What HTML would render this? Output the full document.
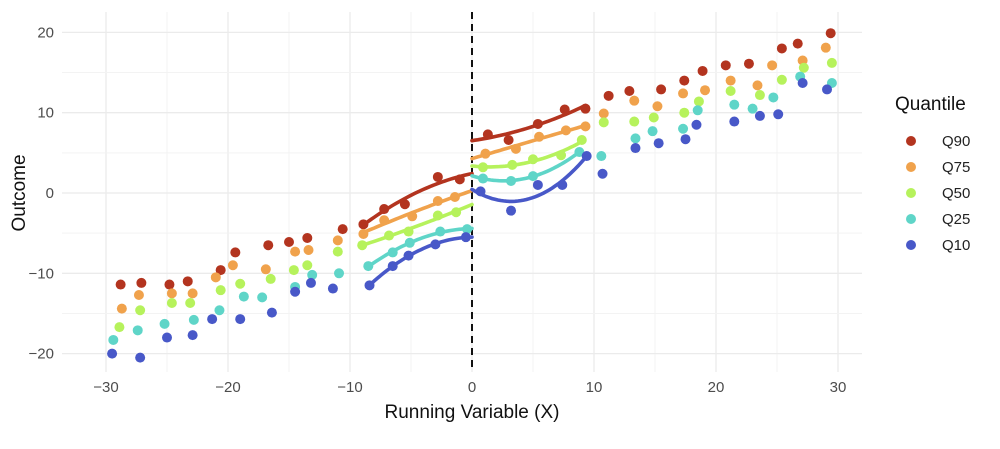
<!DOCTYPE html>
<html><head><meta charset="utf-8"><style>
body{margin:0;background:#fff;}
svg text{font-family:"Liberation Sans",sans-serif;}
</style></head><body>
<svg id="chart" width="1000" height="444" xmlns="http://www.w3.org/2000/svg">
<g id="grid"></g>
<g id="axes"></g>
<g id="lines"></g>
<g id="points"></g>
<g id="legend"></g>
</svg>
<script>
const quantiles=["Q90","Q75","Q50","Q25","Q10"];
const colors=["#b3341f","#f0a24c","#b6f25c","#5fd5c8","#4858c8"];
const xTicks=[-30,-20,-10,0,10,20,30];
const yTicks=[-20,-10,0,10,20];
const q90X=[-28.8,-27.1,-24.8,-23.3,-20.6,-19.4,-16.7,-15.0,-13.5,-10.6,-8.9,-7.2,-5.5,-2.8,-1.0,1.3,3.0,5.4,7.6,9.3,11.2,12.9,15.5,17.4,18.9,20.8,22.7,25.4,26.7,29.4];
const q90Y=[-11.4,-11.2,-11.4,-11.0,-9.6,-7.4,-6.5,-6.1,-5.6,-4.5,-3.9,-2.0,-1.4,2.0,1.7,7.3,6.6,8.6,10.4,10.5,12.1,12.7,12.9,14.0,15.2,15.9,16.1,18.0,18.6,19.9];
const q75X=[-28.7,-27.3,-24.6,-22.9,-21.0,-19.6,-16.9,-14.5,-13.4,-11.0,-8.9,-7.2,-4.9,-2.8,-1.4,1.1,3.6,5.5,7.7,9.3,10.8,13.3,15.2,17.3,19.1,21.2,23.4,24.6,27.1,29.0];
const q75Y=[-14.4,-12.7,-12.5,-12.5,-10.5,-9.0,-9.5,-7.3,-7.1,-5.9,-5.1,-3.4,-2.9,-1.0,-0.5,4.9,5.5,7.0,7.8,8.3,9.9,11.5,10.8,12.4,12.8,14.0,13.4,15.9,16.5,18.1];
const q50X=[-28.9,-27.2,-24.6,-23.1,-20.6,-19.0,-16.5,-14.6,-13.5,-11.0,-9.0,-6.8,-5.2,-2.8,-1.3,0.9,3.3,5.0,7.3,9.0,10.8,13.3,14.9,17.4,18.6,21.2,23.6,25.4,27.2,29.5];
const q50Y=[-16.7,-14.6,-13.7,-13.7,-12.1,-11.3,-10.7,-9.6,-9.0,-7.3,-6.5,-5.3,-4.8,-2.8,-2.4,3.2,3.5,4.2,4.7,6.6,8.8,8.9,9.4,10.0,11.4,12.7,12.2,14.1,15.6,16.2];
const q25X=[-29.4,-27.4,-25.2,-22.8,-20.7,-18.7,-17.2,-14.5,-13.1,-10.9,-8.5,-6.5,-5.1,-2.6,-0.4,0.9,3.2,5.0,8.8,10.6,13.4,14.8,17.3,18.5,21.5,23.0,24.7,26.9,29.5];
const q25Y=[-18.3,-17.1,-16.3,-15.8,-14.6,-12.9,-13.0,-11.7,-10.2,-10.0,-9.1,-7.4,-6.2,-4.8,-4.5,1.8,1.5,2.1,5.1,4.6,6.8,7.7,8.0,10.3,11.0,10.5,11.9,14.5,13.7];
const q10X=[-29.5,-27.2,-25.0,-22.9,-21.3,-19.0,-16.4,-14.5,-13.2,-11.4,-8.4,-6.5,-5.2,-3.0,-0.5,0.7,3.2,5.4,7.4,9.4,10.7,13.4,15.3,17.5,18.4,21.5,23.6,25.1,27.1,29.1];
const q10Y=[-20.0,-20.5,-18.0,-17.7,-15.7,-15.7,-14.9,-12.3,-11.2,-11.9,-11.5,-9.1,-7.8,-6.4,-5.5,0.2,-2.2,1.0,1.0,4.6,2.4,5.6,6.2,6.7,8.5,8.9,9.6,9.8,13.7,12.9];
const seriesX=[q90X,q75X,q50X,q25X,q10X];
const seriesY=[q90Y,q75Y,q50Y,q25Y,q10Y];
const bandwidth=9.6;

const NS="http://www.w3.org/2000/svg";
const sx=v=>472+v*12.2;
const sy=v=>193-v*8.03;
function mk(tag,attrs,parent){const e=document.createElementNS(NS,tag);for(const k in attrs)e.setAttribute(k,attrs[k]);parent.appendChild(e);return e;}
const grid=document.getElementById('grid'),axes=document.getElementById('axes'),lines=document.getElementById('lines'),pts=document.getElementById('points'),leg=document.getElementById('legend');

for(let v=-30;v<=30;v+=5){const l=mk('line',{x1:sx(v),x2:sx(v),y1:12,y2:372,stroke:v%10===0?'#ebebeb':'#f3f3f3','stroke-width':v%10===0?1.3:1},grid);

}
for(let v=-20;v<=20;v+=5){const l=mk('line',{x1:62,x2:862,y1:sy(v),y2:sy(v),stroke:v%10===0?'#ebebeb':'#f3f3f3','stroke-width':v%10===0?1.3:1},grid);

}
xTicks.forEach(v=>{const t=mk('text',{x:sx(v),y:392,'text-anchor':'middle','font-size':15,fill:'#4d4d4d'},axes);t.textContent=(v<0?'\u2212'+(-v):v);

});
yTicks.forEach(v=>{const t=mk('text',{x:54,y:sy(v)+5,'text-anchor':'end','font-size':15,fill:'#4d4d4d'},axes);t.textContent=(v<0?'\u2212'+(-v):v);

});
let xt=mk('text',{x:472,y:418,'text-anchor':'middle','font-size':19,fill:'#111'},axes);xt.textContent='Running Variable (X)';


let yt=mk('text',{x:0,y:0,'text-anchor':'middle','font-size':19,fill:'#111',transform:'translate(25,193) rotate(-90)'},axes);yt.textContent='Outcome';


let cut=mk('line',{x1:sx(0),x2:sx(0),y1:12,y2:372,stroke:'#111','stroke-width':2,'stroke-dasharray':'7,5'},axes);



function quadFit(xs,ys){let S=[0,0,0,0,0],T=[0,0,0];for(let i=0;i<xs.length;i++){let p=1;for(let k=0;k<5;k++){S[k]+=p;if(k<3)T[k]+=p*ys[i];p*=xs[i];}}
const A=[[S[0],S[1],S[2],T[0]],[S[1],S[2],S[3],T[1]],[S[2],S[3],S[4],T[2]]];
for(let i=0;i<3;i++){for(let j=i+1;j<3;j++){const f=A[j][i]/A[i][i];for(let k=i;k<4;k++)A[j][k]-=f*A[i][k];}}
const c=[0,0,0];for(let i=2;i>=0;i--){let s=A[i][3];for(let k=i+1;k<3;k++)s-=A[i][k]*c[k];c[i]=s/A[i][i];}return c;}

seriesX.forEach((xs,si)=>{const ys=seriesY[si];
 [[-1],[1]].forEach(([side])=>{const fx=[],fy=[];xs.forEach((x,i)=>{if(side<0?(x<0&&x>=-bandwidth):(x>0&&x<=bandwidth)){fx.push(x);fy.push(ys[i]);}});
  if(fx.length<3)return;const c=quadFit(fx,fy);const lo=side<0?Math.min(...fx):0,hi=side<0?0:Math.max(...fx);let d='';
  for(let k=0;k<=40;k++){const x=lo+(hi-lo)*k/40;const y=c[0]+c[1]*x+c[2]*x*x;d+=(k?'L':'M')+sx(x).toFixed(1)+','+sy(y).toFixed(1);}
  const p=mk('path',{d:d,fill:'none',stroke:colors[si],'stroke-width':3.6,'stroke-linecap':'round'},lines);
  
  });
 xs.forEach((x,i)=>{const c=mk('circle',{cx:sx(x),cy:sy(ys[i]),r:5,fill:colors[si]},pts);
  
  });
});
let lt=mk('text',{x:895,y:110,'font-size':19,fill:'#111'},leg);lt.textContent='Quantile';


quantiles.forEach((q,i)=>{const y=141+i*26;const g=mk('g',{},leg);
 
 
 mk('circle',{cx:911,cy:y,r:5,fill:colors[i]},g);
 const t=mk('text',{x:942,y:y+5,'font-size':15,fill:'#222'},g);t.textContent=q;});
</script>
</body></html>
